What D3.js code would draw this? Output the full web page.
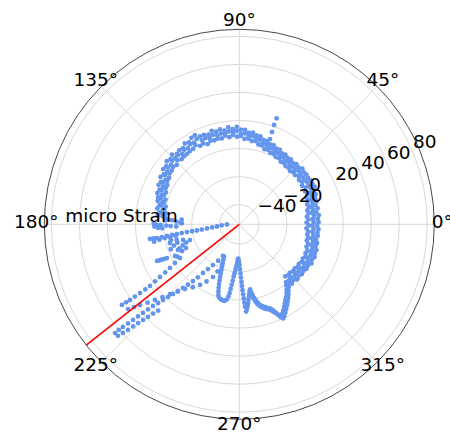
<!DOCTYPE html>
<html>
<head>
<meta charset="utf-8">
<script src="https://cdn.jsdelivr.net/npm/d3@7"></script>
<style>
  body { margin: 0; background: #fff; }
  text { font-family: "DejaVu Sans", sans-serif; }
</style>
</head>
<body>
<div id="root"></div>
<script>
// angular ticks (degrees) and radial ticks (micro strain)
var thetaTicks = [0, 45, 90, 135, 180, 225, 270, 315];
var rTicks = [-40, -20, 0, 20, 40, 60, 80];
var rLimits = [-54, 85];
var rAxisLabel = "micro Strain";
var refAngle = 218.3;

// main ring, read as outer / middle / inner edge of the band
var ringTheta = [174, 171.5, 169, 166.5, 164, 161.5, 159, 156.5, 154, 151.5, 149, 146.5, 144, 141.5, 139, 136.5, 134, 131.5, 129, 126.5,
  124, 121.5, 119, 116.5, 114, 111.5, 109, 106.5, 104, 101.5, 99, 96.5, 94, 91.5, 89, 86.5, 84, 81.5, 79, 76.5,
  74, 71.5, 69, 66.5, 64, 61.5, 59, 56.5, 54, 51.5, 49, 46.5, 44, 41.5, 39, 36.5, 34, 31.5, 29, 26.5,
  24, 21.5, 19, 16.5, 14, 11.5, 9, 6.5, 4, 1.5, -1, -3.5, -6, -8.5, -11, -13.5, -16, -18.5, -21, -23.5,
  -26, -28.5, -31, -33.5, -36, -38.5, -41, -43.5, -46, -48.5];
var ringOuter = [4.5, 3.5, 5.5, 4.5, 6.5, 7, 8.5, 8, 10, 9.5, 11.5, 10.5, 13, 12.5, 14.5, 13.5, 15, 13, 14, 13.5,
  15.5, 14.5, 16.5, 17, 14.5, 14.5, 13.5, 15.5, 14, 15, 13.5, 15.5, 14, 15.5, 13.5, 13.5, 11.5, 12, 10.5, 10.5,
  8.5, 8.5, 7, 7.5, 6, 6.5, 5, 5.5, 4.5, 5, 4, 5, 4.5, 6, 5, 5.5, 5, 6, 5.5, 6,
  4, 4.5, 3, 3.5, 2, 3, 1.5, 3, 2, 2.5, 1.5, 2.5, 2, 2.5, 1.5, 3, 2.5, 4, 3.5, 4.5,
  3.5, 4.5, 3, 3.5, 2.5, 3, 2, 3, 1.5, 2.5];
var ringMid = [1, 2.5, 1.5, 3.5, 3, 5, 5, 6.5, 6.5, 8, 7.5, 9.5, 9.5, 11, 10.5, 12, 11.5, 12, 10.5, 12,
  11.5, 13, 12.5, 14, 11.5, 12, 11, 12.5, 11, 12, 11.5, 12.5, 12, 12.5, 10.5, 11, 9.5, 9.5, 8, 8,
  6, 6, 4.5, 5, 3.5, 4, 2.5, 3, 1.5, 2.5, 1, 2, 1.5, 3, 2, 2.5, 2, 3, 2.5, 3,
  1, 1.5, 0, 0.5, -1, -0.5, -1.5, -0.5, -1.5, -1, -2, -1, -1.5, -0.5, -1.5, 0, -0.5, 1, 0.5, 1.5,
  0.5, 1.5, 0, 1, -0.5, 0, -1, 0, -1.5, -0.5];
var ringInner = [-0.5, -1, 0.5, 0, 2, 1.5, 3.5, 3, 4.5, 4.5, 6, 6, 7.5, 7.5, 8.5, 7.5, 9.5, 8, 8.5, 8.5,
  9, 9, 10.5, 8.5, 9, 7.5, 9, 8.5, 9, 8.5, 10, 8.5, 10, 8.5, 9, 7, 7.5, 6, 6.5, 4.5,
  4.5, 2.5, 3, 1.5, 2, 0.5, 1, -0.5, 0, -1, -0.5, -1.5, -0.5, -1, 0.5, -1, 0, -1.5, 0, -1.5,
  -1, -2.5, -2, -3.5, -3, -4.5, -4, -5.5, -4.5, -6, -4.5, -6, -4.5, -5, -4, -4.5, -3, -3.5, -2, -2.5,
  -1.5, -2.5, -2, -3, -2.5, -3.5, -3, -4, -3.5, -4.5];

// lower part of the ring with its inward spikes
var bottomTheta = [-51, -52.5, -54, -55.5, -57, -58.5, -60, -61.5, -63, -64.5, -65.5, -66.5, -67.5, -68.5, -69.5, -70.5, -71.5, -72.5, -73.5, -74.5,
  -75.5, -76.5, -77.3, -78, -78.8, -79.4, -80, -80.5, -81.2, -81.8, -82.4, -83, -83.6, -84.2, -84.8, -85.5, -86, -86.3, -86.6, -86.9,
  -87.2, -87.5, -87.8, -88.2, -88.6, -89.2, -89.8, -90.6, -91.5, -92.5, -93.3, -94, -94.8, -95.5, -96.2, -96.7, -97.2, -97.6, -98, -98.5,
  -99.5, -101, -102.5, -104, -105.5, -106.5, -107.3, -108, -108.7, -109.4, -110, -110.7, -111.4, -112.2, -113.2, -114.3, -115.4,
  -50.5, -52, -53.5, -55, -56.5, -58, -59.5, -61, -62.5, -64, -65, -66, -67, -68, -69, -70, -71, -72, -73, -74,
  -75, -76, -77, -77.8, -78.5, -79.2];
var bottomStrain = [-1, 1, 3.5, 5.5, 7.5, 9, 11, 13, 15, 17, 18.4, 16.5, 14, 12, 10.5, 9.5, 9, 8, 7.5, 6.5,
  5.5, 4, 2.5, 1, -0.5, -2.5, -4.5, -7, -6, -4, -2, 0, 2.5, 4.5, 6.5, 8.4, 5, 2, -1, -4,
  -7, -10, -13, -16, -19, -22, -25, -27.5, -29.5, -29, -26.5, -24, -21.5, -19, -16.5, -13.5, -10.5, -7.5, -4.5, -2,
  0.5, 1.5, 1.5, 1, 0, -1.5, -4, -6.5, -9, -11.5, -14, -16.5, -19, -21.5, -24, -26.5, -28.5,
  1.5, 3, 5, 7, 9, 11, 13, 15, 17, 19, 20, 18.5, 16, 14, 12.5, 11, 10, 9.5, 9, 8,
  7, 6, 4.5, 3, 1.5, -0.5];

// dots bunched at the left end of the ring
var clusterTheta = [182, 181.5, 181, 180.5, 180.2, 179.5, 178.5, 177.5, 176.5, 176, 175.5, 177, 179, 183, 182.5, 181.5];
var clusterStrain = [-9, -5, -2, 2, 5, 7, -12, -9, -6, -3, -12.8, -1, -13, 1, 4, 6.5];

// near-horizontal spoke left of the centre
var spokeTheta = [180.9, 183.5, 185.6, 186.6, 187.4, 188, 188.3, 188.4, 188.4, 188.7, 188.9, 189, 189.2, 189.4, 189.5, 189.4, 189.3,
  190.5, 191, 191.5, 190.8, 190.2];
var spokeStrain = [-45.2, -41.5, -38, -34.5, -30.8, -27, -23.5, -20, -16.3, -12.5, -9, -5.5, -1.8, 2, 5.5, 8, 10.5,
  0, 4, 8, -4, -8];

// knot of dots below the spoke
var knotTheta = [195.1, 195.6, 196.5, 197.7, 199, 200.5, 202, 202.7, 204, 205, 206.2, 207.5, 198, 200, 193, 194,
  204, 204.3, 204.5, 204.8, 205];
var knotStrain = [-2.8, -12.4, -8, -17.1, -14, -11, -8, -6.6, -12.4, -9, -2.9, -4, -5, -2, -4, -8,
  10.2, 8.3, 6.5, 4.7, 2.9];

// long spoke above the reference line and its return below it
var upperTheta = [209.6, 211, 212.2, 213, 213.6, 214.1, 214.6, 214.7, 214.7, 214.7, 214.7, 214.6, 214.5,
  217.3, 218.2, 219.1, 220.5, 221.9, 223.5, 225.2, 227.5, 230, 233.5, 237.1, 240.2, 243.5, 245.2, 247];
var upperStrain = [-5.4, -0.5, 4.4, 9, 13.9, 18.5, 23.3, 27.5, 32.1, 36.5, 40.8, 44, 47.5,
  45.7, 41.5, 37.2, 32, 26.8, 21.5, 16.1, 11, 6.2, 1.8, -2.5, -7, -12, -17, -22.5];

// longest pair of spokes toward 222 deg
var lowerTheta = [242.8, 240, 237.1, 235, 233.3, 232, 230.8, 229.6, 228.5, 227.4, 226.4, 225.6, 224.8, 224.1, 223.4, 223, 222.6, 222.3, 222, 221.7, 221.4, 221.2, 221.2,
  222.6, 223, 223.5, 223.9, 224.3, 224.8, 225.4, 226, 226.8];
var lowerStrain = [-28.6, -24, -19.4, -15, -10.7, -6, -1.8, 2.5, 6.6, 10.6, 14.6, 18.6, 22.6, 26.6, 30.7, 35, 39.3, 43.6, 47.9, 52.2, 56.6, 60.2, 63.7,
  63.5, 59.5, 55.4, 51, 46.8, 42.7, 38.7, 34.5, 30.5];

// stray dots top right
var strayTheta = [70.6, 70.7, 70.5, 70.2];
var strayStrain = [26.1, 21, 15.8, 10.6];

var width = 450, height = 437;
var cx = 239.3, cy = 224.3, outerR = 195;

var svg = d3.select("#root")
            .append("svg")
            .attr("width", width)
            .attr("height", height);

var rScale = d3.scaleLinear().domain(rLimits).range([0, outerR]);
var aScale = d3.scaleLinear().domain([0, 360]).range([0, 2 * Math.PI]);

function px(theta, v) { return cx + rScale(v) * Math.cos(aScale(theta)); }
function py(theta, v) { return cy - rScale(v) * Math.sin(aScale(theta)); }

var grid = svg.append("g");

// circular grid
grid.selectAll("circle.grid")
    .data(rTicks)
    .enter().append("circle")
    .attr("cx", cx).attr("cy", cy)
    .attr("r", function(d) { return rScale(d); })
    .attr("fill", "none")
    .attr("stroke", "#d4d4d4")
    .attr("stroke-width", 0.9);

// spokes
grid.selectAll("line.spoke")
    .data(thetaTicks)
    .enter().append("line")
    .attr("x1", cx).attr("y1", cy)
    .attr("x2", function(d) { return px(d, rLimits[1]); })
    .attr("y2", function(d) { return py(d, rLimits[1]); })
    .attr("stroke", "#d4d4d4")
    .attr("stroke-width", 0.9);

// data points
var points = [];
function addSeries(ts, vs) {
  ts.forEach(function(t, i) { points.push([t, vs[i]]); });
}
addSeries(ringTheta, ringOuter);
addSeries(ringTheta, ringMid);
addSeries(ringTheta, ringInner);
addSeries(bottomTheta, bottomStrain);
addSeries(clusterTheta, clusterStrain);
addSeries(spokeTheta, spokeStrain);
addSeries(knotTheta, knotStrain);
addSeries(upperTheta, upperStrain);
addSeries(lowerTheta, lowerStrain);
addSeries(strayTheta, strayStrain);

svg.append("g").selectAll("circle")
   .data(points)
   .enter().append("circle")
   .attr("cx", function(d) { return px(d[0], d[1]); })
   .attr("cy", function(d) { return py(d[0], d[1]); })
   .attr("r", 2.4)
   .attr("fill", "#6495ed");

// reference line
svg.append("line")
   .attr("x1", px(refAngle, rLimits[0])).attr("y1", py(refAngle, rLimits[0]))
   .attr("x2", px(refAngle, rLimits[1])).attr("y2", py(refAngle, rLimits[1]))
   .attr("stroke", "red")
   .attr("stroke-width", 1.6);

// outer spine
svg.append("circle")
   .attr("cx", cx).attr("cy", cy).attr("r", outerR)
   .attr("fill", "none")
   .attr("stroke", "#333")
   .attr("stroke-width", 0.9);

// angle labels
svg.append("g").selectAll("text")
   .data(thetaTicks)
   .enter().append("text")
   .attr("x", function(d) { return cx + 203 * Math.cos(aScale(d)); })
   .attr("y", function(d) { return cy - 202 * Math.sin(aScale(d)) - 2.5; })
   .attr("dy", "0.36em")
   .attr("text-anchor", "middle")
   .attr("font-size", "18.5px")
   .text(function(d) { return d + "°"; });

// radial labels along 22.5 deg
svg.append("g").selectAll("text")
   .data(rTicks)
   .enter().append("text")
   .attr("x", function(d) { return px(22.5, d); })
   .attr("y", function(d) { return py(22.5, d) - 4.4; })
   .attr("text-anchor", "start")
   .attr("font-size", "18.5px")
   .text(function(d) { return d < 0 ? "\u2212" + Math.abs(d) : d; });

svg.append("text")
   .attr("x", 121.5).attr("y", 221.7)
   .attr("text-anchor", "middle")
   .attr("font-size", "18.5px")
   .text(rAxisLabel);
</script>
</body>
</html>
